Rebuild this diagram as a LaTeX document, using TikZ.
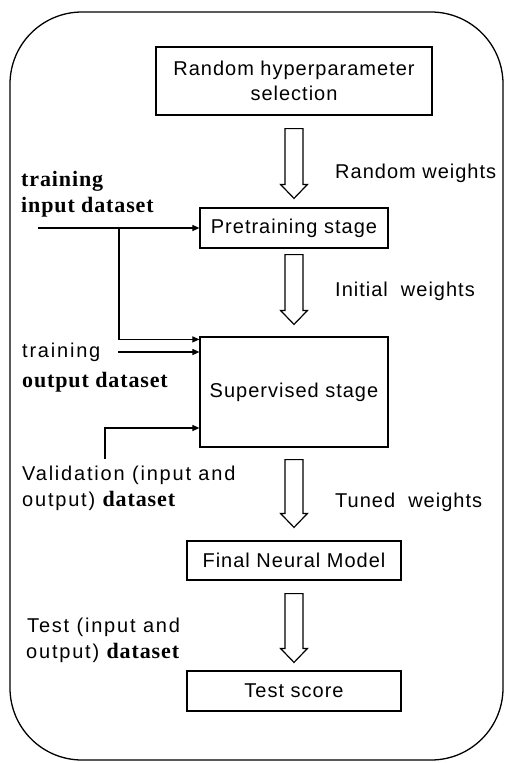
\documentclass[tikz,border=0pt]{standalone}
\usepackage{fontspec}
\setmainfont{Liberation Sans}[LetterSpace=5]
\newfontfamily\widesans{Liberation Sans}[LetterSpace=9]
\newfontfamily\bser{Liberation Serif}[LetterSpace=4]
\usetikzlibrary{arrows.meta,calc}
\tikzset{
  box/.style={draw, line width=1.2pt, inner sep=0pt, align=center, font=\fontsize{20}{25}\selectfont},
  wlbl/.style={anchor=base west, inner sep=0pt, font=\fontsize{20}{24}\selectfont},
  llbl/.style={anchor=base west, inner sep=0pt, font=\widesans\fontsize{20}{24}\selectfont},
  slbl/.style={anchor=base west, inner sep=0pt, font=\bser\bfseries\fontsize{22}{26}\selectfont},
  feed/.style={line width=1.1pt, -{Triangle[length=7pt,width=6pt]}},
  hollow/.style={draw, line width=1.2pt, fill=white, line join=miter},
}
\newcommand\harrow[4]{%
  \draw[hollow] let \p1=(#1.south), \p2=(#2.north) in
    (\x1-9pt,\y1-#3pt) -- (\x1+9pt,\y1-#3pt) -- (\x1+9pt,\y2+#4pt+14pt)
    -- (\x1+13.5pt,\y2+#4pt+14pt) -- (\x1,\y2+#4pt)
    -- (\x1-13.5pt,\y2+#4pt+14pt) -- (\x1-9pt,\y2+#4pt+14pt) -- cycle;}
\begin{document}
\begin{tikzpicture}[x=1pt,y=-1pt]
\useasboundingbox (0,0) rectangle (506,763);
\draw[line width=1.3pt, rounded corners=72pt] (10,12) rectangle (503,760);

% boxes
\node[box, minimum width=276, minimum height=68] (hyp) at (294,81) {Random hyperparameter\\selection};
\node[box, minimum width=188, minimum height=40] (pre) at (294,228) {Pretraining stage};
\node[box, minimum width=188, minimum height=110] (sup) at (294,392) {Supervised stage};
\node[box, minimum width=214, minimum height=39] (fin) at (294,560.5) {Final Neural Model};
\node[box, minimum width=214, minimum height=40] (tst) at (294,691) {Test score};

% hollow arrows
\harrow{hyp}{pre}{13}{9}
\harrow{pre}{sup}{6}{12}
\harrow{sup}{fin}{12}{13}
\harrow{fin}{tst}{13}{8}

% right labels
\node[wlbl] (rw) at (335,178) {Random weights};
\node[wlbl] (iw) at (335,296) {Initial\ \ weights};
\node[wlbl] (tw) at (335,507) {Tuned\ \ weights};

% left labels
\node[slbl] (tr1) at (21,186) {training};
\node[slbl] (in1) at (21,212) {input dataset};
\node[llbl] (tr2) at (22,357) {training};
\node[slbl] (out2) at (22,387) {output dataset};
\node[llbl] (val1) at (22,480) {Validation (input and};
\node[llbl] (val2) at (22,506) {output) {\bser\bfseries\fontsize{22}{26}\selectfont dataset}};
\node[llbl] (te1) at (27,632) {Test (input and};
\node[llbl] (te2) at (26,658) {output) {\bser\bfseries\fontsize{22}{26}\selectfont dataset}};

% feed arrows
\coordinate (inA) at (38,228);
\coordinate (br) at (119,228);
\coordinate (trA) at (118,352);
\coordinate (vA) at (105,459);
\draw[feed] (inA) -- (pre.west);
\draw[feed] (br) |- ([yshift=-3pt]sup.north west);
\draw[feed] (trA) -- (trA -| sup.west);
\draw[feed] (vA) |- ([yshift=-36pt]sup.west);
\end{tikzpicture}
\end{document}
